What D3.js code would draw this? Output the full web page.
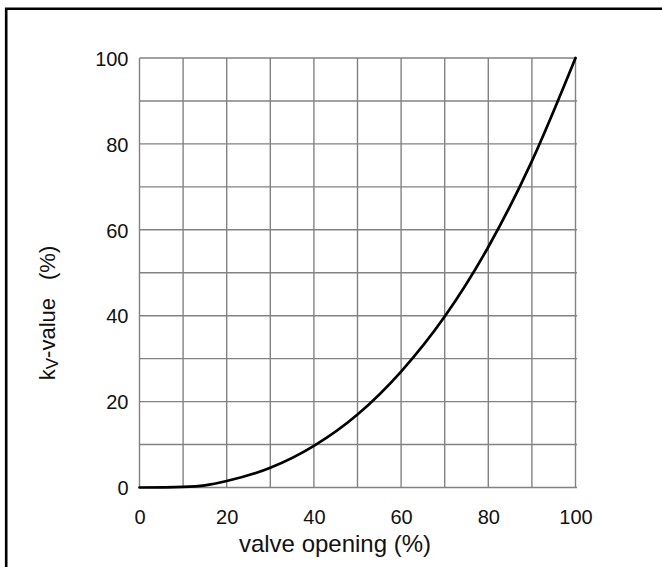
<!DOCTYPE html>
<html>

<head>
  <style>
    body {
      margin: 0;
      background: white;
      font-family: "Liberation Sans", Arial, Helvetica, sans-serif;
    }

    svg {
      display: block;
    }
  </style>
</head>

<body>
  <svg id="chart"></svg>

  <script src="https://cdn.jsdelivr.net/npm/d3@7/dist/d3.min.js"></script>
  <script>
    // 数据：阀门开度 (%) 与 kv 值 (%)
    var openings = [0, 10, 15, 20, 30, 40, 50, 60, 70, 80, 90, 100];
    var kvValues = [0, 0.15, 0.5, 1.5, 4.6, 9.7, 17, 27, 39.8, 56, 76, 100];
    var gridTicks = [0, 10, 20, 30, 40, 50, 60, 70, 80, 90, 100];
    var labelTicks = [0, 20, 40, 60, 80, 100];

    var width = 662, height = 567;
    var padding = { top: 58, left: 139.5, right: 86.5, bottom: 79.5 };

    var svg = d3.select("#chart")
      .attr("width", width)
      .attr("height", height);

    var xScale = d3.scaleLinear()
      .domain([0, 100])
      .range([padding.left, width - padding.right]);
    var yScale = d3.scaleLinear()
      .domain([0, 100])
      .range([height - padding.bottom, padding.top]);

    // 外框（只有上边和左边）
    svg.append("path")
      .attr("d", "M6.2," + height + "V8.7H" + width)
      .attr("fill", "none")
      .attr("stroke", "black")
      .attr("stroke-width", 2.6);

    // 网格
    var grid = svg.append("g").attr("class", "grid");
    grid.selectAll("line.v")
      .data(gridTicks)
      .join("line")
      .attr("class", "v")
      .attr("x1", d => xScale(d))
      .attr("x2", d => xScale(d))
      .attr("y1", yScale(100))
      .attr("y2", yScale(0))
      .attr("stroke", "#828282")
      .attr("stroke-width", 1.4);
    grid.selectAll("line.h")
      .data(gridTicks)
      .join("line")
      .attr("class", "h")
      .attr("x1", xScale(0))
      .attr("x2", xScale(100) + 1.5)
      .attr("y1", d => yScale(d))
      .attr("y2", d => yScale(d))
      .attr("stroke", "#828282")
      .attr("stroke-width", 1.4);

    // 坐标轴（只要文字）
    var xAxis = d3.axisBottom(xScale).tickValues(labelTicks).tickSize(0).tickPadding(0);
    var gx = svg.append("g")
      .attr("transform", "translate(0," + (height - padding.bottom) + ")")
      .call(xAxis);
    gx.select(".domain").remove();
    gx.selectAll("text")
      .attr("dy", null)
      .attr("y", 36.5)
      .attr("font-size", "20px")
      .attr("font-family", "Liberation Sans, Arial, sans-serif")
      .attr("fill", "#111");

    var yAxis = d3.axisLeft(yScale).tickValues(labelTicks).tickSize(0).tickPadding(11);
    var gy = svg.append("g")
      .attr("transform", "translate(" + padding.left + ",0)")
      .call(yAxis);
    gy.select(".domain").remove();
    gy.selectAll("text")
      .attr("dy", "0.36em")
      .attr("font-size", "20px")
      .attr("font-family", "Liberation Sans, Arial, sans-serif")
      .attr("fill", "#111");

    // 曲线
    var line = d3.line()
      .x((d, i) => xScale(openings[i]))
      .y(d => yScale(d))
      .curve(d3.curveMonotoneX);
    svg.append("path")
      .datum(kvValues)
      .attr("d", line)
      .attr("fill", "none")
      .attr("stroke", "black")
      .attr("stroke-width", 2.7)
      .attr("stroke-linecap", "round");

    // 坐标轴标题
    svg.append("text")
      .attr("x", 335)
      .attr("y", 551.5)
      .attr("text-anchor", "middle")
      .attr("font-size", "24px")
      .attr("fill", "#111")
      .text("valve opening (%)");

    var yTitle = svg.append("text")
      .attr("transform", "translate(55,313) rotate(-90)")
      .attr("text-anchor", "middle")
      .attr("font-size", "22px")
      .attr("fill", "#111");
    yTitle.append("tspan").text("k");
    yTitle.append("tspan").attr("font-size", "17px").attr("dy", 3).text("V");
    yTitle.append("tspan").attr("dy", -3).text("-value");
    yTitle.append("tspan").attr("dx", 18).text("(%)");
  </script>
</body>

</html>
